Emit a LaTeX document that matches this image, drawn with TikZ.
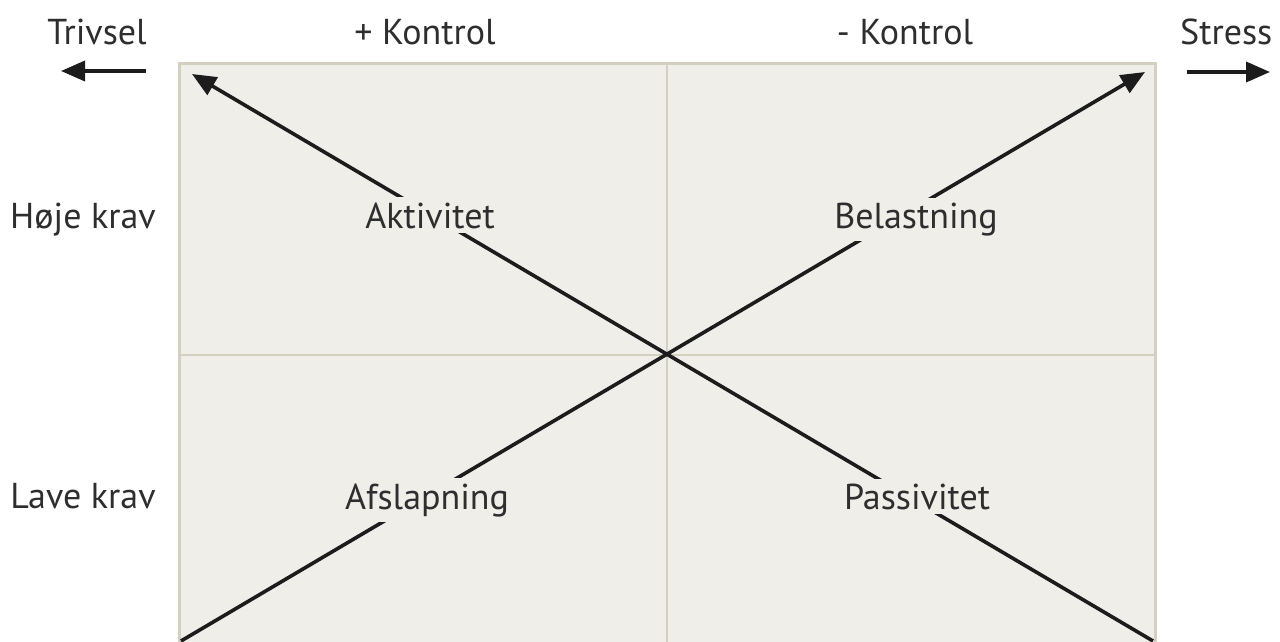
\documentclass[tikz,border=0pt]{standalone}
\usepackage{fontspec}
\setmainfont{PT Sans}
\usetikzlibrary{arrows.meta}
\definecolor{panel}{HTML}{EFEEE9}
\definecolor{rim}{HTML}{D3D0C1}
\definecolor{ink}{HTML}{1C1C1C}
\definecolor{txt}{HTML}{2E2E2E}
\tikzset{
  lbl/.style={text=txt, font=\fontsize{36}{42}\selectfont, inner sep=0pt, anchor=base},
  cell/.style={lbl, fill=panel, inner sep=5pt},
  diag/.style={draw=ink, line width=3.6pt, -{Triangle[length=24pt,width=20pt]}},
}
\begin{document}
\begin{tikzpicture}[x=1pt,y=-1pt]
  \useasboundingbox (0,0) rectangle (1280,642);
  \clip (0,0) rectangle (1280,642);
  % quadrant panel
  \fill[panel] (179,64) rectangle (1155,646);
  \draw[rim, line width=3pt] (179,646) -- (179,64) -- (1155,64) -- (1155,646);
  \draw[rim, line width=2.5pt] (667,64) -- (667,646);
  \draw[rim, line width=2.5pt] (179,355) -- (1155,355);
  % corner points of the two diagonals
  \coordinate (bl) at (181,641);
  \coordinate (tr) at (1145,72);
  \coordinate (br) at (1153,641);
  \coordinate (tl) at (192,74);
  \draw[diag] (bl) -- (tr);
  \draw[diag] (br) -- (tl);
  % quadrant labels (placed on their baselines)
  \node[cell] (akt) at (430,228) {Aktivitet};
  \node[cell] (bel) at (916,228) {Belastning};
  \node[cell] (afs) at (427,509) {Afslapning};
  \node[cell] (pas) at (917,509) {Passivitet};
  % axis labels
  \node[lbl] (trivsel) at (97,45) {Trivsel};
  \node[lbl] (pluskon) at (425,45) {+ Kontrol};
  \node[lbl] (minkon) at (905,45) {- Kontrol};
  \node[lbl, anchor=base west] (stress) at (1180,45) {Stress};
  \node[lbl] (hoje) at (83,228) {Høje krav};
  \node[lbl] (lave) at (83,508) {Lave krav};
  % direction arrows
  \coordinate (ls) at (146,71);
  \coordinate (le) at (61,71);
  \coordinate (rs) at (1187,72);
  \coordinate (re) at (1270,72);
  \draw[diag] (ls) -- (le);
  \draw[diag] (rs) -- (re);
\end{tikzpicture}
\end{document}
